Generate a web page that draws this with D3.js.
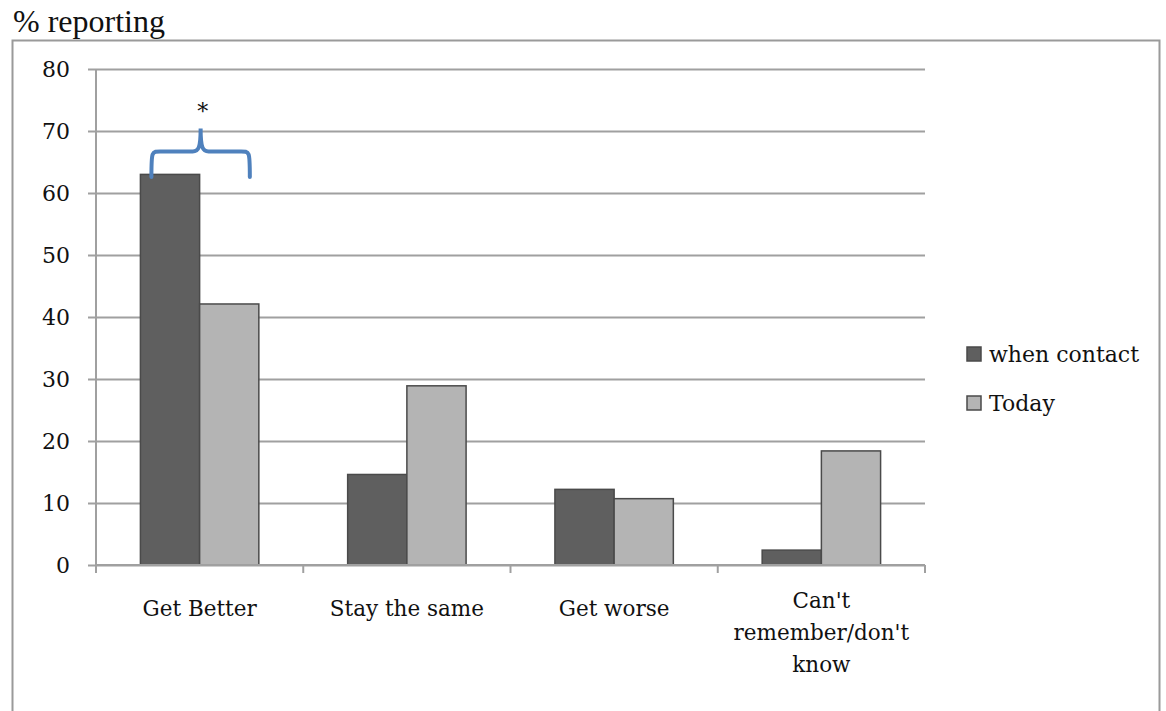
<!DOCTYPE html>
<html>
<head>
<meta charset="utf-8">
<script src="https://cdn.jsdelivr.net/npm/d3@7"></script>
<style>
  html, body { margin: 0; padding: 0; background: #fff; }
  svg { display: block; }
</style>
</head>
<body>
<svg id="chart" width="1166" height="711"></svg>
<script>
// Response categories and the share of respondents (%) in each
const categories = ["Get Better", "Stay the same", "Get worse", "Can't remember/don't know"];
const categoryLines = [["Get Better"], ["Stay the same"], ["Get worse"], ["Can't", "remember/don't", "know"]];
const seriesNames = ["when contact", "Today"];
const whenContact = [63, 14.6, 12.2, 2.4];
const today = [42.1, 28.9, 10.7, 18.4];
const yTicks = [0, 10, 20, 30, 40, 50, 60, 70, 80];
const seriesColors = ["#5f5f5f", "#b4b4b4"];

const svg = d3.select("#chart");
const labelFont = "'DejaVu Serif', serif";

// outer frame of the chart area
svg.append("path")
  .attr("d", "M12.5,711 L12.5,40.5 L1159.5,40.5 L1159.5,711")
  .attr("fill", "none").attr("stroke", "#9a9a9a").attr("stroke-width", 2);

svg.append("text")
  .attr("x", 13).attr("y", 32)
  .attr("font-family", "'Liberation Serif', serif")
  .attr("font-size", 32).attr("fill", "#111")
  .text("% reporting");

const plot = { left: 96, right: 925, top: 69, bottom: 565 };

const x = d3.scaleBand().domain(categories).range([plot.left, plot.right]).paddingInner(0).paddingOuter(0);
const inner = d3.scaleBand().domain(seriesNames).range([0, x.bandwidth()]).paddingInner(0).paddingOuter(0.75);
const y = d3.scaleLinear().domain([0, 80]).range([plot.bottom, plot.top]);

// horizontal gridlines with short ticks to the left of the axis
const yAxis = d3.axisLeft(y).tickValues(yTicks).tickSize(-(plot.right - plot.left)).tickPadding(0).tickFormat(d3.format("d"));
const gy = svg.append("g").attr("transform", `translate(${plot.left},0)`).call(yAxis);
gy.select(".domain").remove();
gy.selectAll(".tick line").attr("x1", -8).attr("stroke", "#a0a0a0").attr("stroke-width", 2);
gy.selectAll(".tick text")
  .attr("x", -26).attr("dy", "0.36em")
  .attr("font-family", labelFont).attr("font-size", 22).attr("fill", "#111");

// vertical axis line
svg.append("line")
  .attr("x1", plot.left).attr("x2", plot.left)
  .attr("y1", plot.top).attr("y2", plot.bottom + 8)
  .attr("stroke", "#a0a0a0").attr("stroke-width", 2);

// bars
const rows = categories.map((c, i) => ({ c, values: [whenContact[i], today[i]] }));
const groups = svg.append("g").selectAll("g").data(rows).join("g")
  .attr("transform", d => `translate(${x(d.c)},0)`);
groups.selectAll("rect")
  .data(d => d.values.map((v, j) => ({ s: seriesNames[j], v, j })))
  .join("rect")
  .attr("x", d => inner(d.s))
  .attr("width", inner.bandwidth())
  .attr("y", d => y(d.v))
  .attr("height", d => y(0) - y(d.v))
  .attr("fill", d => seriesColors[d.j])
  .attr("stroke", "#4a4a4a").attr("stroke-width", 1.5);

// category axis
const xAxis = d3.axisBottom(x).tickSize(0).tickFormat("");
const gx = svg.append("g").attr("transform", `translate(0,${plot.bottom})`).call(xAxis);
gx.select(".domain").attr("stroke", "#a0a0a0").attr("stroke-width", 2).attr("d", `M${plot.left},0H${plot.right}`);
const bounds = categories.map(c => x(c)).concat([plot.right]);
gx.selectAll(".divider").data(bounds).join("line")
  .attr("class", "divider")
  .attr("x1", d => d).attr("x2", d => d).attr("y1", 0).attr("y2", 8)
  .attr("stroke", "#a0a0a0").attr("stroke-width", 2);

// category labels (wrapped)
const lbl = svg.append("g").selectAll("text").data(categories).join("text")
  .attr("text-anchor", "middle")
  .attr("font-family", labelFont).attr("font-size", 21.5).attr("fill", "#111");
lbl.each(function(d, i) {
  const t = d3.select(this);
  const lines = categoryLines[i];
  const y0 = lines.length > 1 ? 608 : 616;
  lines.forEach((line, k) => {
    t.append("tspan").attr("x", x(d) + x.bandwidth() / 2).attr("y", y0 + k * 32).text(line);
  });
});

// significance brace over the first category
const bx0 = x(categories[0]) + inner(seriesNames[0]) + 11;
const bx1 = x(categories[0]) + inner(seriesNames[1]) + inner.bandwidth() - 9;
const bmid = (bx0 + bx1) / 2;
const braceY = y(66.7);
const tipY = y(70.4);
const endY = y(62.6);
svg.append("path")
  .attr("d", `M${bx0},${endY} C${bx0},${braceY - 2} ${bx0},${braceY} ${bx0 + 12},${braceY}
              L${bmid - 8},${braceY} C${bmid - 2},${braceY} ${bmid},${braceY - 4} ${bmid},${tipY}
              C${bmid},${braceY - 4} ${bmid + 2},${braceY} ${bmid + 8},${braceY}
              L${bx1 - 12},${braceY} C${bx1},${braceY} ${bx1},${braceY - 2} ${bx1},${endY}`)
  .attr("fill", "none").attr("stroke", "#4f81bd").attr("stroke-width", 4).attr("stroke-linecap", "round");
svg.append("text")
  .attr("x", bmid + 2).attr("y", y(72.0))
  .attr("text-anchor", "middle")
  .attr("font-family", labelFont).attr("font-size", 22).attr("fill", "#111")
  .text("*");

// legend
const legend = svg.append("g").selectAll("g").data(seriesNames).join("g")
  .attr("transform", (d, i) => `translate(967,${347 + i * 49})`);
legend.append("rect")
  .attr("width", 14).attr("height", 14)
  .attr("fill", (d, i) => seriesColors[i])
  .attr("stroke", "#4a4a4a").attr("stroke-width", 1.5);
legend.append("text")
  .attr("x", 22).attr("y", 15)
  .attr("font-family", labelFont).attr("font-size", 22).attr("fill", "#111")
  .text(d => d);
</script>
</body>
</html>
